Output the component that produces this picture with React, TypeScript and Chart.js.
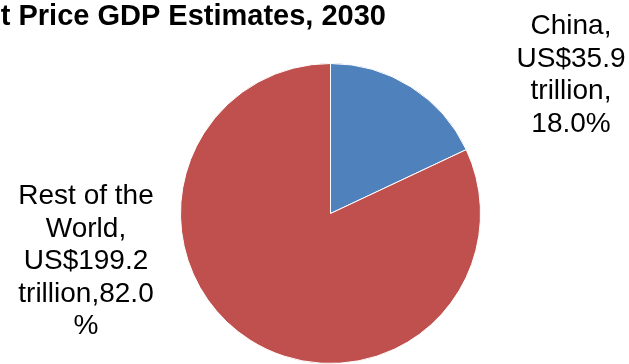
import React, { useEffect, useRef } from "react";
import { Chart, registerables } from "chart.js";

Chart.register(...registerables);

const titleText = "Current Price GDP Estimates, 2030";
const categories = ["China", "Rest of the World"];
const valuesTrillion = [35.9, 199.2];
const sharePercent = [18.0, 82.0];
const sliceColors = ["#4F81BD", "#C0504D"];
const labelLines = [
  ["China,", "US$35.9", "trillion,", "18.0%"],
  ["Rest of the", "World,", "US$199.2", "trillion,82.0", "%"],
];

const labelPlugin = {
  id: "customLabels",
  afterDraw(chart: any) {
    const ctx = chart.ctx;
    ctx.save();
    // title (cropped at the left like the reference)
    ctx.font = "bold 29px 'Liberation Sans', Arial, sans-serif";
    ctx.fillStyle = "#000";
    ctx.textAlign = "right";
    ctx.textBaseline = "alphabetic";
    ctx.fillText(titleText, 386, 25);

    ctx.font = "28px 'Liberation Sans', Arial, sans-serif";
    ctx.textAlign = "center";
    const anchors = [
      { x: 571, y: 34 },
      { x: 86, y: 204 },
    ];
    const lh = 32.5;
    labelLines.forEach((lines, i) => {
      lines.forEach((ln, j) => {
        ctx.fillText(ln, anchors[i].x, anchors[i].y + j * lh);
      });
    });
    ctx.restore();
  },
};

export default function App() {
  const ref = useRef<HTMLCanvasElement | null>(null);
  useEffect(() => {
    if (!ref.current) return;
    const chart = new Chart(ref.current, {
      type: "pie",
      data: {
        labels: categories.map((c, i) => `${c}, US$${valuesTrillion[i]} trillion`),
        datasets: [
          {
            data: sharePercent,
            backgroundColor: sliceColors,
            borderColor: "#ffffff",
            borderWidth: 1,
          },
        ],
      },
      options: {
        responsive: false,
        animation: false,
        layout: { padding: { top: 63, left: 180, right: 148, bottom: 0 } },
        plugins: {
          legend: { display: false },
          tooltip: { enabled: false },
          title: { display: false },
        },
      },
      plugins: [labelPlugin],
    });
    return () => chart.destroy();
  }, []);
  return (
    <div style={{ position: "absolute", left: 0, top: 0, width: 629, height: 364, background: "#fff" }}>
      <canvas ref={ref} width={629} height={364} style={{ display: "block" }} />
    </div>
  );
}
